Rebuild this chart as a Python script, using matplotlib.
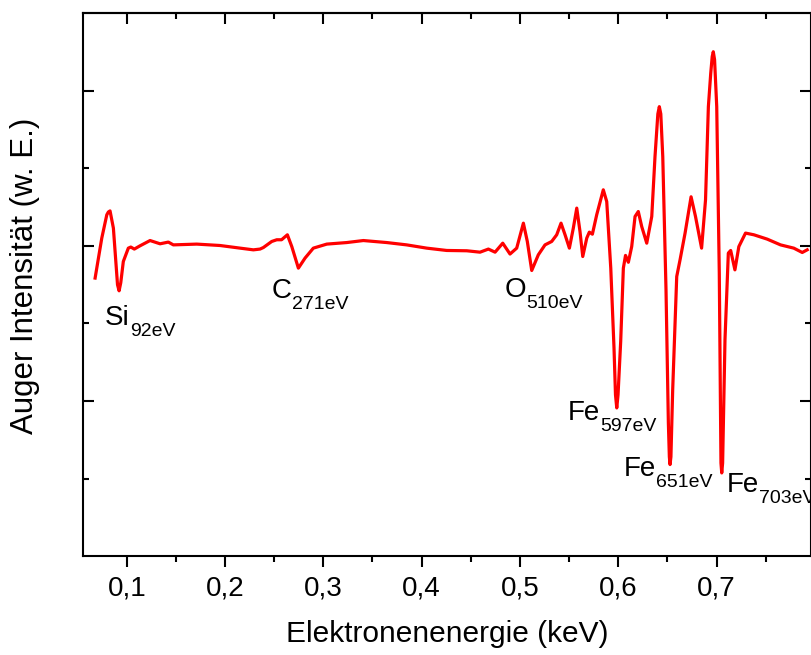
import numpy as np
import matplotlib
matplotlib.use('Agg')
import matplotlib.pyplot as plt

plt.rcParams['font.family'] = ['Liberation Sans', 'DejaVu Sans']
plt.rcParams['mathtext.default'] = 'regular'
plt.rcParams['font.size'] = 20

#%% Data
energy = [0.0678, 0.0746, 0.0797, 0.0813, 0.0830, 0.0864, 0.0906, 0.0922, 0.0939,
          0.0965, 0.1016, 0.1041, 0.1077, 0.1135, 0.1237, 0.1339, 0.1423, 0.1474,
          0.1712, 0.1949, 0.2153, 0.2288, 0.2356, 0.2390, 0.2475, 0.2526, 0.2575,
          0.2634, 0.2679, 0.2746, 0.2814, 0.2898, 0.3035, 0.3238, 0.3407, 0.3645,
          0.3848, 0.4052, 0.4255, 0.4459, 0.4594, 0.4679, 0.4747, 0.4825, 0.4899,
          0.4967, 0.5035, 0.5075, 0.5120, 0.5187, 0.5255, 0.5323, 0.5374, 0.5418,
          0.5459, 0.5503, 0.5543, 0.5578, 0.5611, 0.5639, 0.5680, 0.5706, 0.5737,
          0.5781, 0.5848, 0.5883, 0.5924, 0.5957, 0.5972, 0.5985, 0.5998, 0.6025,
          0.6052, 0.6074, 0.6103, 0.6137, 0.6171, 0.6204, 0.6239, 0.6290, 0.6341,
          0.6374, 0.6403, 0.6418, 0.6433, 0.6453, 0.6486, 0.6510, 0.6520, 0.6527,
          0.6536, 0.6554, 0.6595, 0.6629, 0.6680, 0.6741, 0.6786, 0.6848, 0.6888,
          0.6917, 0.6941, 0.6956, 0.6967, 0.6980, 0.7002, 0.7028, 0.7045, 0.7053,
          0.7062, 0.7086, 0.7120, 0.7144, 0.7187, 0.7227, 0.7295, 0.7380, 0.7516,
          0.7651, 0.7786, 0.7872, 0.7922]
intensity = [-0.208, 0.050, 0.200, 0.218, 0.225, 0.114, -0.251, -0.290, -0.238,
             -0.101, -0.015, -0.008, -0.021, 0.000, 0.034, 0.013, 0.024, 0.006,
             0.011, 0.002, -0.015, -0.026, -0.021, -0.011, 0.028, 0.039, 0.039,
             0.071, -0.005, -0.144, -0.079, -0.015, 0.011, 0.021, 0.034, 0.021,
             0.006, -0.015, -0.030, -0.032, -0.041, -0.021, -0.041, 0.017, -0.053,
             -0.015, 0.146, 0.028, -0.159, -0.058, 0.006, 0.028, 0.071, 0.146,
             0.071, -0.015, 0.114, 0.243, 0.092, -0.069, 0.050, 0.088, 0.075,
             0.200, 0.361, 0.285, -0.144, -0.659, -0.960, -1.045, -0.960, -0.616,
             -0.144, -0.062, -0.106, -0.005, 0.189, 0.221, 0.124, 0.017, 0.189,
             0.575, 0.850, 0.897, 0.850, 0.575, -0.283, -1.142, -1.360, -1.410,
             -1.360, -0.927, -0.198, -0.090, 0.082, 0.316, 0.189, -0.015, 0.296,
             0.897, 1.112, 1.220, 1.251, 1.200, 0.897, -0.176, -1.400, -1.464,
             -1.400, -0.605, -0.047, -0.030, -0.155, -0.005, 0.082, 0.071, 0.043,
             0.006, -0.015, -0.043, -0.026]

xticks = [0.1, 0.2, 0.3, 0.4, 0.5, 0.6, 0.7]
xticklabels = ['0,1', '0,2', '0,3', '0,4', '0,5', '0,6', '0,7']
xminor = [0.15, 0.25, 0.35, 0.45, 0.55, 0.65, 0.75]
yticks = [-1, 0, 1]
yminor = [-1.5, -0.5, 0.5]

peak_names = ['Si', 'C', 'O', 'Fe', 'Fe', 'Fe']
peak_subs = ['92eV', '271eV', '510eV', '597eV', '651eV', '703eV']
peak_x = [0.0779, 0.2478, 0.4848, 0.5489, 0.6059, 0.7107]
peak_y = [-0.509, -0.335, -0.328, -1.120, -1.481, -1.590]

#%% Plot
fig = plt.figure(figsize=(8.11, 6.55), dpi=100)
ax = fig.add_axes([0.102, 0.151, 0.8986, 0.829])

ax.plot(energy, intensity, c='#ff0000', linewidth=2.3, solid_joinstyle='round')

ax.set_xlim(0.0552, 0.7966)
ax.set_ylim(-2, 1.5)

ax.set_xticks(xticks)
ax.set_xticklabels(xticklabels)
ax.set_xticks(xminor, minor=True)
ax.set_yticks(yticks)
ax.set_yticklabels([])
ax.set_yticks(yminor, minor=True)

ax.tick_params(axis='x', which='major', direction='out', length=8, width=1.5, pad=6, top=False)
ax.tick_params(axis='x', which='minor', direction='out', length=4.5, width=1.5, top=False)
ax.tick_params(axis='y', which='major', direction='in', length=8, width=1.5, left=True, right=True)
ax.tick_params(axis='y', which='minor', direction='in', length=4.5, width=1.5, left=True, right=True)

# top ticks point inward, bottom ones outward
secax = ax.secondary_xaxis('top')
secax.set_xticks(xticks)
secax.set_xticks(xminor, minor=True)
secax.tick_params(axis='x', which='major', direction='in', length=8, width=1.5, labeltop=False)
secax.tick_params(axis='x', which='minor', direction='in', length=4.5, width=1.5)
secax.spines['top'].set_linewidth(1.5)

for s in ax.spines.values():
    s.set_linewidth(1.5)

for name, sub, px, py in zip(peak_names, peak_subs, peak_x, peak_y):
    t = ax.text(px, py, name, fontsize=20, ha='left', va='baseline')
    ax.annotate(sub, xy=(1, 0), xycoords=t, xytext=(0, -3.6),
                textcoords='offset points', fontsize=14, ha='left', va='baseline')

ax.set_xlabel('Elektronenenergie (keV)', fontsize=21.5)
ax.xaxis.set_label_coords(0.5, -0.118)
ax.set_ylabel('Auger Intensität (w. E.)', fontsize=22.5)
ax.yaxis.set_label_coords(-0.058, 0.5166)

plt.savefig('out.png', dpi=100)
